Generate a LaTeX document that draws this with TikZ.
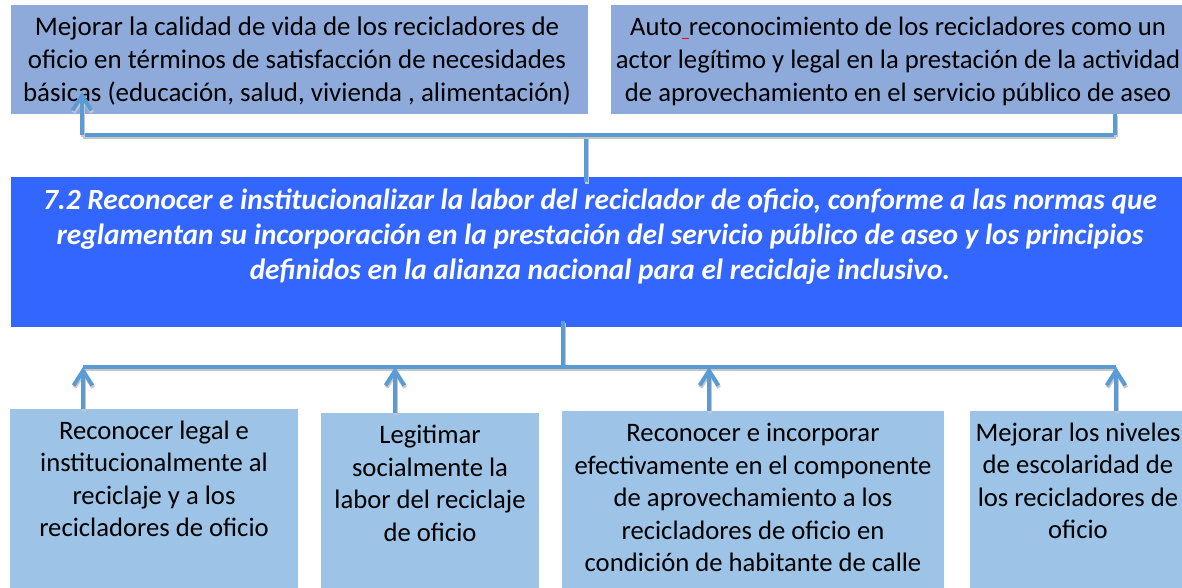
\documentclass[tikz,border=0pt]{standalone}
\usepackage{fontspec}
\setmainfont{Carlito}
\usetikzlibrary{arrows.meta}
\definecolor{topblue}{HTML}{8EAADB}
\definecolor{botblue}{HTML}{9DC3E6}
\definecolor{mainblue}{HTML}{3366FF}
\definecolor{conn}{HTML}{5B9BD5}
\begin{document}
\begin{tikzpicture}[x=0.75pt,y=-0.75pt,
  boxshape/.style={inner sep=0pt, outer sep=0pt, anchor=north west},
  topbox/.style={boxshape, fill=topblue},
  botbox/.style={boxshape, fill=botblue},
  mainbox/.style={boxshape, fill=mainblue},
  toptext/.style={align=center, inner sep=0pt, font=\fontsize{20.2}{24.75}\selectfont},
  bottext/.style={align=center, inner sep=0pt, font=\fontsize{20}{24.4}\selectfont},
  maintext/.style={align=center, inner sep=0pt, text=white, font=\fontsize{22}{26.25}\selectfont\bfseries\itshape},
  conline/.style={draw=conn, line width=3pt,
    preaction={draw=black!22, line width=3pt, transform canvas={shift={(0.6pt,-1.6pt)}}}},
  uparrow/.style={conline, -{Straight Barb[length=11pt,width=14pt]}}
]
\useasboundingbox (0,0) rectangle (1182,587);

% top boxes
\node[topbox, minimum width={0.75pt*577}, minimum height={0.75pt*109}] (t1) at (11,5) {};
\node[toptext] (t1t) at (297,61) {Mejorar la calidad de vida de los recicladores de\\oficio en términos de satisfacción de necesidades\\básicas (educación, salud, vivienda , alimentación)};
\node[topbox, minimum width={0.75pt*580}, minimum height={0.75pt*109}] (t2) at (611,5) {};
\node[toptext, font=\fontsize{20}{24.75}\selectfont] (t2t) at (898,61) {Auto{\color{red}\rule[-3pt]{0.25em}{1.2pt}}reconocimiento de los recicladores como un\\actor legítimo y legal en la prestación de la actividad\\de aprovechamiento en el servicio público de aseo};

% main box
\node[mainbox, minimum width={0.75pt*1180}, minimum height={0.75pt*150}] (m) at (11,177) {};
\node[maintext] (mt) at (600,237) {7.2 Reconocer e institucionalizar la labor del reciclador de oficio, conforme a las normas que\\reglamentan su incorporación en la prestación del servicio público de aseo y los principios\\definidos en la alianza nacional para el reciclaje inclusivo.};

% bottom boxes
\node[botbox, minimum width={0.75pt*288}, minimum height={0.75pt*180}] (b1) at (10,409) {};
\node[bottext] (b1t) at (154,479) {Reconocer legal e\\institucionalmente al\\reciclaje y a los\\recicladores de oficio};
\node[botbox, minimum width={0.75pt*218}, minimum height={0.75pt*176}] (b2) at (321,413) {};
\node[bottext] (b2t) at (430,483.5) {Legitimar\\socialmente la\\labor del reciclaje\\de oficio};
\node[botbox, minimum width={0.75pt*382}, minimum height={0.75pt*178}] (b3) at (562,411) {};
\node[bottext] (b3t) at (753,497.5) {Reconocer e incorporar\\efectivamente en el componente\\de aprovechamiento a los\\recicladores de oficio en\\condición de habitante de calle};
\node[botbox, minimum width={0.75pt*220}, minimum height={0.75pt*178}] (b4) at (970,411) {};
\node[bottext] (b4t) at (1078,481) {Mejorar los niveles\\de escolaridad de\\los recicladores de\\oficio};

% top connectors
\coordinate (tj) at (586,135);
\coordinate (tl) at (82,135);
\coordinate (tr) at (1115,135);
\coordinate (tlTip) at (82,92);
\draw[conline] ([yshift=-4pt]m.north -| tj) -- (tj);
\draw[conline] (tl) -- (tr);
\draw[uparrow] (tl) -- (tlTip);
\draw[conline] (tr) -- (tr |- t2.south);

% bottom connectors
\coordinate (bj) at (563,367);
\coordinate (a1) at (83,367);
\coordinate (a2) at (395,367);
\coordinate (a3) at (709,367);
\coordinate (a4) at (1116,367);
\draw[conline] ([yshift=4.5pt]m.south -| bj) -- (bj);
\draw[conline] (a1) -- (a4);
\draw[uparrow] (a1 |- b1.north) -- (a1);
\draw[uparrow] (a2 |- b2.north) -- (a2);
\draw[uparrow] (a3 |- b3.north) -- (a3);
\draw[uparrow] (a4 |- b4.north) -- (a4);
\end{tikzpicture}
\end{document}
